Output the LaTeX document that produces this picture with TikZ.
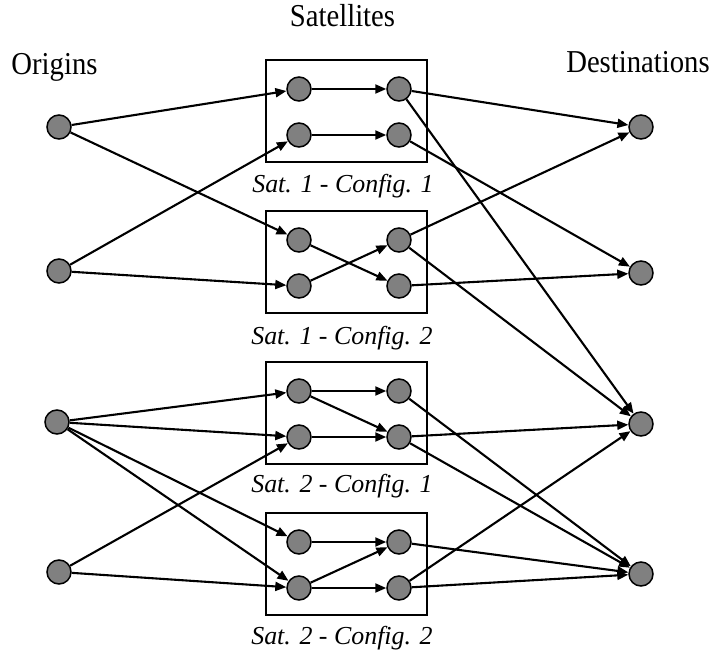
\documentclass[tikz,border=0pt]{standalone}
\usepackage{fontspec}
\setmainfont{Liberation Serif}
\usetikzlibrary{arrows.meta}

\tikzset{
  site/.style={circle, draw=black, line width=1.5bp, fill=black!50,
               minimum size=24bp, inner sep=0pt},
  satbox/.style={draw=black, line width=1.6bp},
  flow/.style={line width=2.1bp, -{Triangle[length=11bp,width=9bp]}},
  heading/.style={anchor=base, inner sep=0pt,
                  font=\fontsize{32}{36}\selectfont},
  caption/.style={anchor=base, inner sep=0pt,
                  font=\fontsize{26}{30}\selectfont\itshape},
}

\begin{document}
\begin{tikzpicture}[x=1bp, y=-1bp]
  \useasboundingbox (0,0) rectangle (714,655);

  % column headings
  \node[heading] (hOrig) at (54.5,75) {\scalebox{0.9}[1]{Origins}};
  \node[heading] (hSat)  at (342.5,27) {\scalebox{0.9}[1]{Satellites}};
  \node[heading] (hDest) at (638,73) {\scalebox{0.9}[1]{Destinations}};

  % origins and destinations
  \node[site] (o1) at (59,127) {};
  \node[site] (o2) at (59,271) {};
  \node[site] (o3) at (57,422) {};
  \node[site] (o4) at (59,572) {};
  \node[site] (d1) at (641,127) {};
  \node[site] (d2) at (641,273) {};
  \node[site] (d3) at (641,424) {};
  \node[site] (d4) at (641,574) {};

  % satellite configurations: a frame with two inputs (a,b) and two outputs (c,d)
  \foreach \i/\t in {1/60,2/211,3/362,4/513}{
    \draw[satbox] (266,\t) rectangle (427,\t+102);
    \node[site] (s\i a) at (299,\t+29) {};
    \node[site] (s\i b) at (299,\t+75) {};
    \node[site] (s\i c) at (399,\t+29) {};
    \node[site] (s\i d) at (399,\t+75) {};
  }

  \node[caption] (c1) at (343,192) {Sat. 1 - Config. 1};
  \node[caption] (c2) at (342,344) {Sat. 1 - Config. 2};
  \node[caption] (c3) at (342,492) {Sat. 2 - Config. 1};
  \node[caption] (c4) at (342,644) {Sat. 2 - Config. 2};

  % origins to satellites
  \draw[flow] (o1) -- (s1a);
  \draw[flow] (o1) -- (s2a);
  \draw[flow] (o2) -- (s1b);
  \draw[flow] (o2) -- (s2b);
  \draw[flow] (o3) -- (s3a);
  \draw[flow] (o3) -- (s3b);
  \draw[flow] (o3) -- (s4a);
  \draw[flow] (o3) -- (s4b);
  \draw[flow] (o4) -- (s3b);
  \draw[flow] (o4) -- (s4b);

  % internal switching
  \draw[flow] (s1a) -- (s1c);
  \draw[flow] (s1b) -- (s1d);
  \draw[flow] (s2a) -- (s2d);
  \draw[flow] (s2b) -- (s2c);
  \draw[flow] (s3a) -- (s3c);
  \draw[flow] (s3a) -- (s3d);
  \draw[flow] (s3b) -- (s3d);
  \draw[flow] (s4a) -- (s4c);
  \draw[flow] (s4b) -- (s4c);
  \draw[flow] (s4b) -- (s4d);

  % satellites to destinations
  \draw[flow] (s1c) -- (d1);
  \draw[flow] (s1c) -- (d3);
  \draw[flow] (s1d) -- (d2);
  \draw[flow] (s2c) -- (d1);
  \draw[flow] (s2c) -- (d3);
  \draw[flow] (s2d) -- (d2);
  \draw[flow] (s3c) -- (d4);
  \draw[flow] (s3d) -- (d3);
  \draw[flow] (s3d) -- (d4);
  \draw[flow] (s4c) -- (d4);
  \draw[flow] (s4d) -- (d3);
  \draw[flow] (s4d) -- (d4);
\end{tikzpicture}
\end{document}
